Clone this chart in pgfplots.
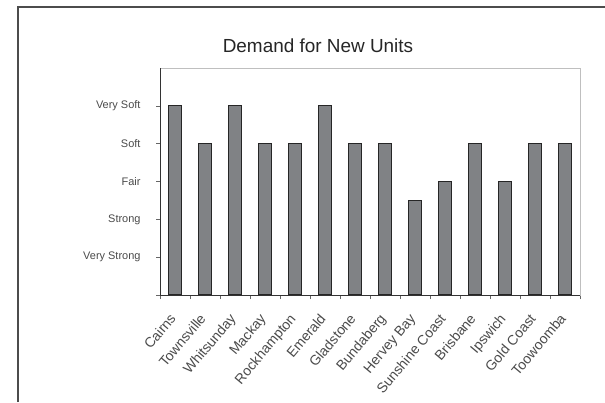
\documentclass[border=0pt]{standalone}
\usepackage{fontspec}
\setmainfont{Liberation Sans}
\usepackage{pgfplots}
\pgfplotsset{compat=1.18}
\definecolor{barfill}{RGB}{128,130,133}
\definecolor{txt}{RGB}{75,75,75}
\begin{document}
\begin{tikzpicture}[x=1bp,y=1bp]
\path[use as bounding box] (0,0) rectangle (605,402);
\fill[white] (0,0) rectangle (605,402);
\draw[line width=1.6bp, black!70] (18,0) -- (18,395) -- (605,395);
\node[font=\fontsize{19}{21}\selectfont, text=black!85] at (318,356) {Demand for New Units};
\begin{axis}[
  at={(160bp,107bp)}, anchor=south west,
  scale only axis, width=420bp, height=227bp,
  xmin=0, xmax=14, ymin=0, ymax=6,
  axis line style={draw=black!25, line width=0.8bp},
  tick align=outside,
  xtick pos=bottom, ytick pos=left,
  major tick length=4bp,
  tick style={black!60, line width=0.6bp},
  xtick={0,1,...,14},
  xticklabels={},
  extra x ticks={0.5,1.5,...,13.5},
  extra x tick labels={Cairns,Townsville,Whitsunday,Mackay,Rockhampton,Emerald,Gladstone,Bundaberg,Hervey Bay,Sunshine Coast,Brisbane,Ipswich,Gold Coast,Toowoomba},
  extra x tick style={major tick length=0pt, tick style={draw=none},
    xticklabel style={rotate=50, anchor=north east, font=\fontsize{14}{15}\selectfont, text=txt, yshift=-3bp, xshift=-14bp}},
  ytick={0,1,...,5},
  yticklabels={,Very Strong,Strong,Fair,Soft,Very Soft},
  yticklabel style={font=\fontsize{11}{12}\selectfont, text=txt, xshift=-12bp},
  ybar, bar width=0.43,
  clip=false,
]
\addplot[fill=barfill, draw=black!85, line width=1.1bp] coordinates {
(0.5,5) (1.5,4) (2.5,5) (3.5,4) (4.5,4) (5.5,5) (6.5,4)
(7.5,4) (8.5,2.5) (9.5,3) (10.5,4) (11.5,3) (12.5,4) (13.5,4)};
\draw[black!80, line width=1bp] (rel axis cs:0,1) -- (rel axis cs:0,0) -- (rel axis cs:1,0);
\end{axis}
\end{tikzpicture}
\end{document}
